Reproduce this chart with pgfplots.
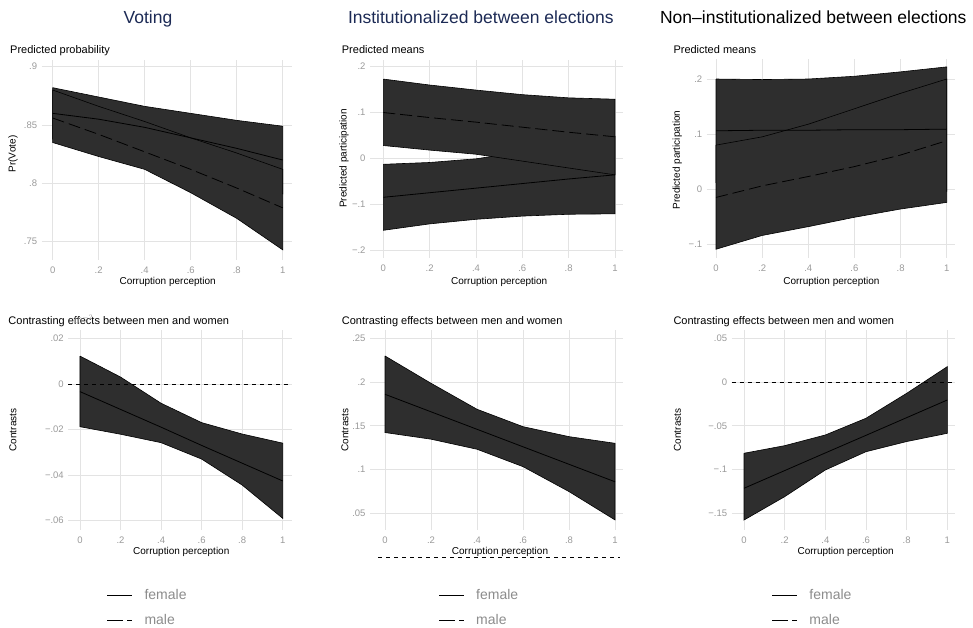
\documentclass[border=0pt]{standalone}
\usepackage{fontspec}
\setmainfont{Liberation Sans}
\usepackage{pgfplots}
\pgfplotsset{compat=1.18}
\definecolor{bandgray}{HTML}{2E2E2E}
\definecolor{gridgray}{HTML}{E3E3E3}
\definecolor{tickgray}{HTML}{9A9A9A}
\definecolor{navy}{HTML}{1C2A55}
\definecolor{leggray}{HTML}{8C8C8C}
\pgfplotsset{
  panel/.style={scale only axis, anchor=south west, clip=false,
    axis line style={draw=none}, major tick length=0pt,
    grid=major, grid style={color=gridgray, line width=0.7pt},
    xtick={0,0.2,0.4,0.6,0.8,1}, xticklabels={0,.2,.4,.6,.8,1},
    tick label style={font=\fontsize{9.5}{10}\selectfont, text=tickgray},
    xticklabel style={yshift=-3.5pt}, yticklabel style={xshift=-1pt}},
  band/.style={fill=bandgray, draw=black, line width=0.6pt, forget plot},
  est/.style={black, line width=0.8pt, forget plot},
  estm/.style={black, line width=0.8pt, dash pattern=on 12pt off 5pt, forget plot},
  zero/.style={black, line width=0.7pt, dash pattern=on 4pt off 4pt, forget plot},
  leg/.style={legend cell align=left,
    legend image code/.code={\draw[##1, line width=0.8pt] (0pt,0pt) -- (25pt,0pt); \path (35pt,0pt);},
    legend style={draw=none, fill=none, inner sep=0pt, row sep=10pt,
      font=\fontsize{14}{16}\selectfont, text=leggray, anchor=north west}},
}
\begin{document}
\begin{tikzpicture}[x=1pt,y=1pt]
\useasboundingbox (0,0) rectangle (973,628);
% titles
\node[anchor=base, font=\fontsize{17.5}{20}\selectfont, text=navy, inner sep=0pt] at (148,604) {Voting};
\node[anchor=base, font=\fontsize{17.5}{20}\selectfont, text=navy, inner sep=0pt] at (480.8,604) {Institutionalized between elections};
\node[anchor=base, font=\fontsize{17.5}{20}\selectfont, text=black, inner sep=0pt] at (813.3,604) {Non–institutionalized between elections};
% subtitles
\node[anchor=base west, font=\fontsize{11}{12}\selectfont, inner sep=0pt] at (10,574.5) {Predicted probability};
\node[anchor=base west, font=\fontsize{11}{12}\selectfont, inner sep=0pt] at (341.7,574.5) {Predicted means};
\node[anchor=base west, font=\fontsize{11}{12}\selectfont, inner sep=0pt] at (673.3,574.5) {Predicted means};
\node[anchor=base west, font=\fontsize{11}{12}\selectfont, inner sep=0pt] at (8.3,303.5) {Contrasting effects between men and women};
\node[anchor=base west, font=\fontsize{11}{12}\selectfont, inner sep=0pt] at (341.7,303.5) {Contrasting effects between men and women};
\node[anchor=base west, font=\fontsize{11}{12}\selectfont, inner sep=0pt] at (673.3,303.5) {Contrasting effects between men and women};
% x labels
\node[anchor=base, font=\fontsize{10}{12}\selectfont, inner sep=0pt] at (167.7,343) {Corruption perception};
\node[anchor=base, font=\fontsize{10}{12}\selectfont, inner sep=0pt] at (499.2,343) {Corruption perception};
\node[anchor=base, font=\fontsize{10}{12}\selectfont, inner sep=0pt] at (831.4,343) {Corruption perception};
\node[anchor=base, font=\fontsize{10}{12}\selectfont, inner sep=0pt] at (181.3,73) {Corruption perception};
\node[anchor=base, font=\fontsize{10}{12}\selectfont, inner sep=0pt] at (500,73) {Corruption perception};
\node[anchor=base, font=\fontsize{10}{12}\selectfont, inner sep=0pt] at (845.7,73) {Corruption perception};
% y labels
\node[rotate=90, font=\fontsize{10}{12}\selectfont, inner sep=0pt] at (13,474) {Pr(Vote)};
\node[rotate=90, font=\fontsize{10}{12}\selectfont, inner sep=0pt] at (344,469.5) {Predicted participation};
\node[rotate=90, font=\fontsize{10}{12}\selectfont, inner sep=0pt] at (677.3,468) {Predicted participation};
\node[rotate=90, font=\fontsize{10}{12}\selectfont, inner sep=0pt] at (13,198) {Contrasts};
\node[rotate=90, font=\fontsize{10}{12}\selectfont, inner sep=0pt] at (345,198) {Contrasts};
\node[rotate=90, font=\fontsize{10}{12}\selectfont, inner sep=0pt] at (677.3,198) {Contrasts};

% ---------- Panel 1: Voting, predicted probability
\begin{axis}[panel, at={(41.7pt,368pt)}, width=250pt, height=200pt,
  xmin=-0.0478, xmax=1.039, ymin=0.73432, ymax=0.90574,
  ytick={0.75,0.8,0.85,0.9}, yticklabels={.75,.8,.85,.9}]
\addplot[band] coordinates {(0,.882)(.2,.874)(.4,.866)(.6,.860)(.8,.854)(1,.849)(1,.791)(.8,.804)(.6,.816)(.4,.828)(.2,.834)(0,.838)(0,.882)};
\addplot[band] coordinates {(0,.880)(.2,.866)(.4,.853)(.6,.839)(.8,.826)(1,.812)(1,.743)(.8,.770)(.6,.792)(.4,.812)(.2,.823)(0,.835)(0,.880)};
\addplot[est] coordinates {(0,.860)(.2,.855)(.4,.848)(.6,.839)(.8,.830)(1,.820)};
\addplot[estm] coordinates {(0,.856)(.2,.842)(.4,.827)(.6,.812)(.8,.796)(1,.779)};
\end{axis}

% ---------- Panel 2: Institutionalized, predicted means
\begin{axis}[panel, at={(370pt,370pt)}, width=253.3pt, height=198pt,
  xmin=-0.0574, xmax=1.036, ymin=-0.2174, ymax=0.2146,
  ytick={-0.2,-0.1,0,0.1,0.2}, yticklabels={−.2,−.1,0,.1,.2}]
\addplot[band] coordinates {(0,-.013)(.2,-.009)(.4,-.001)(.6,.014)(.8,.030)(1,.048)(1,-.121)(.8,-.122)(.6,-.126)(.4,-.133)(.2,-.143)(0,-.157)(0,-.013)};
\addplot[band] coordinates {(0,.173)(.2,.160)(.4,.149)(.6,.139)(.8,.132)(1,.129)(1,-.036)(.8,-.021)(.6,-.006)(.4,.009)(.2,.018)(0,.028)(0,.173)};
\addplot[est] coordinates {(0,-.085)(.2,-.075)(.4,-.065)(.6,-.055)(.8,-.045)(1,-.036)};
\addplot[estm] coordinates {(0,.100)(.2,.089)(.4,.079)(.6,.068)(.8,.057)(1,.047)};
\end{axis}

% ---------- Panel 3: Non-institutionalized, predicted means
\begin{axis}[panel, at={(706.7pt,370pt)}, width=248.3pt, height=198.7pt,
  xmin=-0.0403, xmax=1.036, ymin=-0.1249, ymax=0.2358,
  ytick={-0.1,0,0.1,0.2}, yticklabels={−.1,0,.1,.2}]
\addplot[band] coordinates {(0,.200)(.2,.199)(.4,.200)(.6,.205)(.8,.213)(1,.222)(1,-.004)(.8,.003)(.6,.011)(.4,.014)(.2,.015)(0,.012)(0,.200)};
\addplot[band] coordinates {(0,.080)(.2,.095)(.4,.118)(.6,.146)(.8,.174)(1,.200)(1,-.024)(.8,-.036)(.6,-.051)(.4,-.068)(.2,-.084)(0,-.109)(0,.080)};
\addplot[est] coordinates {(0,.106)(.2,.107)(.4,.107)(.6,.108)(.8,.108)(1,.109)};
\addplot[estm] coordinates {(0,-.015)(.2,.006)(.4,.023)(.6,.041)(.8,.062)(1,.088)};
\end{axis}

% ---------- Panel 4: Voting contrasts
\begin{axis}[panel, leg, at={(68.3pt,98pt)}, width=223.4pt, height=200pt,
  xmin=-0.0577, xmax=1.0444, ymin=-0.06412, ymax=0.02364,
  ytick={-0.06,-0.04,-0.02,0,0.02}, yticklabels={−.06,−.04,−.02,0,.02},
  legend style={at={(rel axis cs:0.172,-0.285)}}]
\addlegendimage{black, solid}\addlegendentry{female}
\addlegendimage{black, dash pattern=on 16pt off 4pt on 5pt off 10pt}\addlegendentry{male}
\addplot[band] coordinates {(0,.0122)(.2,.003)(.4,-.0085)(.6,-.017)(.8,-.022)(1,-.026)(1,-.059)(.8,-.0444)(.6,-.033)(.4,-.0258)(.2,-.0221)(0,-.0188)(0,.0122)};
\addplot[est] coordinates {(0,-.0034)(.2,-.0112)(.4,-.019)(.6,-.027)(.8,-.0348)(1,-.0426)};
\addplot[zero] coordinates {(-0.0577,0)(1.0444,0)};
\end{axis}

% ---------- Panel 5: Institutionalized contrasts
\begin{axis}[panel, leg, at={(370pt,98pt)}, width=253.3pt, height=200pt,
  xmin=-0.0652, xmax=1.036, ymin=0.0309, ymax=0.2595,
  ytick={0.05,0.1,0.15,0.2,0.25}, yticklabels={.05,.1,.15,.2,.25},
  legend style={at={(rel axis cs:0.27,-0.285)}}]
\addlegendimage{black, solid}\addlegendentry{female}
\addlegendimage{black, dash pattern=on 16pt off 4pt on 5pt off 10pt}\addlegendentry{male}
\addplot[band] coordinates {(0,.2298)(.2,.1986)(.4,.1689)(.6,.149)(.8,.1376)(1,.13)(1,.0424)(.8,.0748)(.6,.1033)(.4,.1232)(.2,.1347)(0,.1423)(0,.2298)};
\addplot[est] coordinates {(0,.186)(.2,.166)(.4,.146)(.6,.126)(.8,.106)(1,.086)};
\addplot[zero] coordinates {(-0.03,0)(1.02,0)};
\end{axis}

% ---------- Panel 6: Non-institutionalized contrasts
\begin{axis}[panel, leg, at={(731.7pt,98pt)}, width=223.3pt, height=200pt,
  xmin=-0.0605, xmax=1.0379, ymin=-0.1691, ymax=0.0595,
  ytick={-0.15,-0.1,-0.05,0,0.05}, yticklabels={−.15,−.1,−.05,0,.05},
  legend style={at={(rel axis cs:0.179,-0.285)}}]
\addlegendimage{black, solid}\addlegendentry{female}
\addlegendimage{black, dash pattern=on 16pt off 4pt on 5pt off 10pt}\addlegendentry{male}
\addplot[band] coordinates {(0,-.0814)(.2,-.0727)(.4,-.0605)(.6,-.0414)(.8,-.0129)(1,.0176)(1,-.0586)(.8,-.068)(.6,-.0796)(.4,-.1005)(.2,-.131)(0,-.1577)(0,-.0814)};
\addplot[est] coordinates {(0,-.1214)(.2,-.1012)(.4,-.081)(.6,-.0609)(.8,-.0407)(1,-.0205)};
\addplot[zero] coordinates {(-0.0605,0)(1.0379,0)};
\end{axis}
\end{tikzpicture}
\end{document}
